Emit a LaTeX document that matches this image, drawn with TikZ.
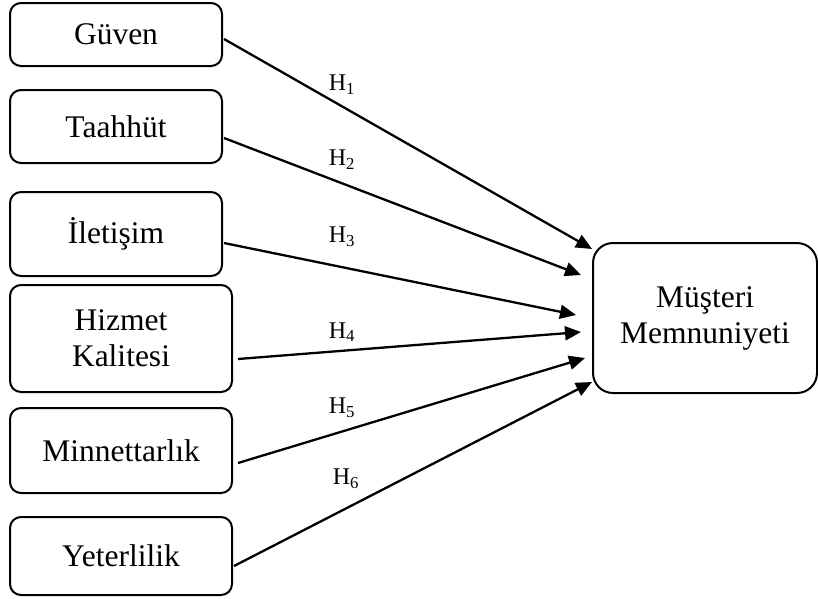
\documentclass[tikz,border=0pt]{standalone}
\usepackage{fontspec}
\setmainfont{Liberation Serif}
\usetikzlibrary{arrows.meta}
\begin{document}
\begin{tikzpicture}[x=1pt,y=-1pt,
  box/.style={draw, line width=2pt, rounded corners=11pt, align=center, inner sep=0pt,
    font=\fontsize{31.5}{36}\selectfont},
  conn/.style={line width=2.3pt, -{Triangle[length=16pt,width=14pt]}},
  hl/.style={font=\fontsize{24}{28}\selectfont, inner sep=0pt}]
\useasboundingbox (0,0) rectangle (818,598);
\node[box, minimum width=212pt, minimum height=63pt] (g) at (116,34.5) {Güven};
\node[box, minimum width=212pt, minimum height=73pt] (t) at (116,126.5) {Taahhüt};
\node[box, minimum width=212pt, minimum height=84pt] (i) at (116,234) {İletişim};
\node[box, minimum width=222pt, minimum height=107pt] (h) at (121,338.5) {Hizmet\\Kalitesi};
\node[box, minimum width=222pt, minimum height=85pt] (mi) at (121,450.5) {Minnettarlık};
\node[box, minimum width=222pt, minimum height=78pt] (y) at (121,556) {Yeterlilik};
\node[box, rounded corners=20pt, minimum width=224pt, minimum height=150pt] (m) at (705,318) {Müşteri\\Memnuniyeti};
\draw[conn] ([shift={(1,4.5)}]g.east) -- ([shift={(0,-69)}]m.west);
\draw[conn] ([shift={(1,11.5)}]t.east) -- ([shift={(-11,-43)}]m.west);
\draw[conn] ([shift={(1,9)}]i.east) -- ([shift={(-16,-3)}]m.west);
\draw[conn] ([shift={(5,20.5)}]h.east) -- ([shift={(-11,14)}]m.west);
\draw[conn] ([shift={(5,12.5)}]mi.east) -- ([shift={(-7,40)}]m.west);
\draw[conn] ([shift={(1,10)}]y.east) -- ([shift={(0,64)}]m.west);
\node[hl] (h1) at (342,85) {H\textsubscript{1}};
\node[hl] (h2) at (342,160) {H\textsubscript{2}};
\node[hl] (h3) at (342,237) {H\textsubscript{3}};
\node[hl] (h4) at (342,332) {H\textsubscript{4}};
\node[hl] (h5) at (342,408) {H\textsubscript{5}};
\node[hl] (h6) at (346,479) {H\textsubscript{6}};
\end{tikzpicture}
\end{document}
